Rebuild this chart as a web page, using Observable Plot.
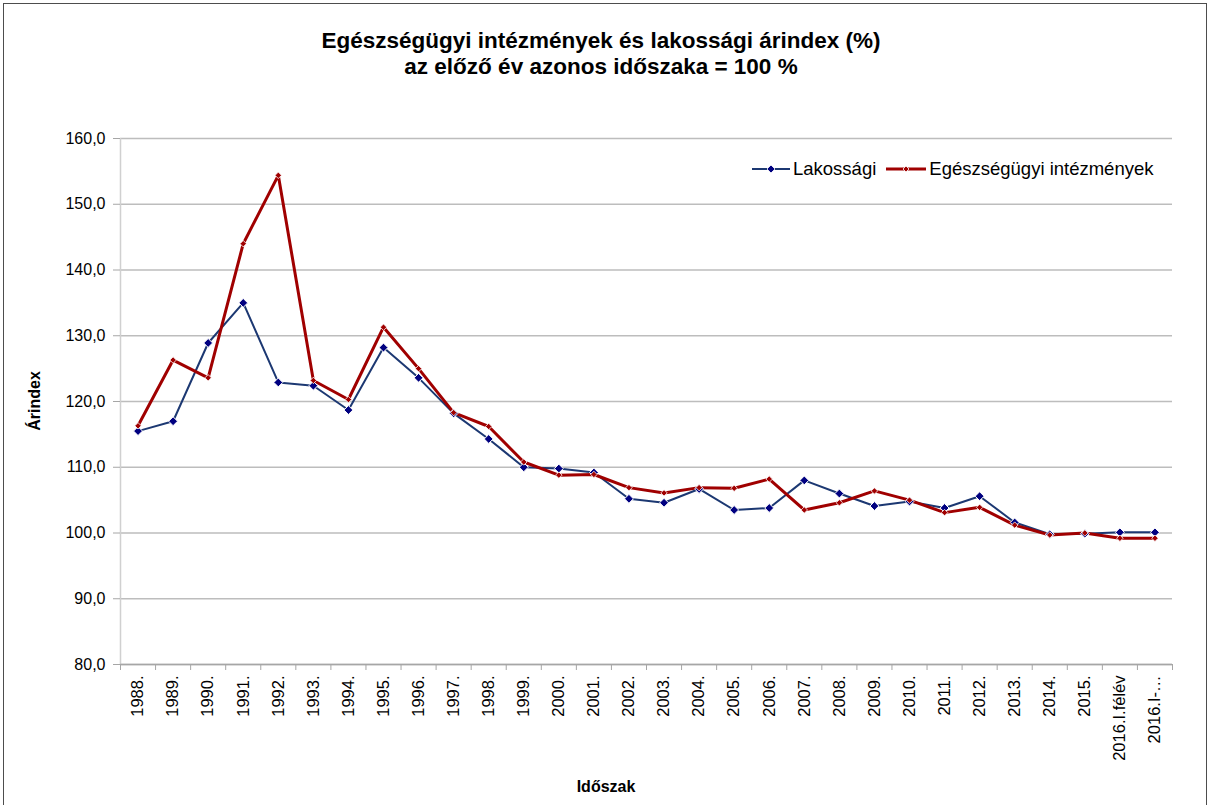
<!DOCTYPE html>
<html>
<head>
<meta charset="utf-8">
<script src="https://cdn.jsdelivr.net/npm/d3@7"></script>
<script src="https://cdn.jsdelivr.net/npm/@observablehq/plot@0.6"></script>
<style>
  body { margin: 0; background: #fff; font-family: "Liberation Sans", Arial, sans-serif; }
  #wrap { position: relative; width: 1210px; height: 805px; overflow: hidden; background: #fff; }
  #frame { position: absolute; left: 3px; top: 3px; width: 1204px; height: 830px; border: 1px solid #4d4d4d; box-sizing: border-box; pointer-events: none; }
  #title { height: 100px; box-sizing: border-box; padding-top: 28px; padding-right: 8px; text-align: center; font-weight: bold; font-size: 22.5px; line-height: 26px; color: #000; }
  #legend { position: absolute; top: 158px; left: 752px; display: flex; align-items: center; font-size: 18.5px; color: #000; white-space: nowrap; }
  #legend .item { display: flex; align-items: center; }
  #legend svg { display: block; margin-right: 3px; }
  .axtitle { position: absolute; font-weight: bold; font-size: 16px; color: #000; white-space: nowrap; }
  #ytitle { left: 35px; top: 401px; transform: translate(-50%, -50%) rotate(-90deg); }
  #xtitle { left: 606px; top: 787px; transform: translate(-50%, -50%); }
</style>
</head>
<body>
<div id="wrap">
  <div id="title">Egészségügyi intézmények és lakossági árindex (%)<br>az előző év azonos időszaka = 100 %</div>
  <div id="chart"></div>
  <div id="legend"></div>
  <div class="axtitle" id="ytitle">Árindex</div>
  <div class="axtitle" id="xtitle">Időszak</div>
  <div id="frame"></div>
</div>
<script>
const categories = ["1988.", "1989.", "1990.", "1991.", "1992.", "1993.", "1994.", "1995.", "1996.", "1997.",
  "1998.", "1999.", "2000.", "2001.", "2002.", "2003.", "2004.", "2005.", "2006.", "2007.",
  "2008.", "2009.", "2010.", "2011.", "2012.", "2013.", "2014.", "2015.", "2016.I.félév", "2016.I-…"];
const lakossagi = [115.5, 117.0, 128.9, 135.0, 122.9, 122.4, 118.7, 128.2, 123.6, 118.2,
  114.3, 110.0, 109.8, 109.2, 105.2, 104.6, 106.7, 103.5, 103.8, 108.0,
  106.0, 104.1, 104.8, 103.8, 105.6, 101.6, 99.8, 99.9, 100.1, 100.1];
const egeszsegugyi = [116.3, 126.3, 123.6, 144.0, 154.4, 123.2, 120.3, 131.3, 125.0, 118.3,
  116.2, 110.8, 108.8, 108.9, 106.9, 106.1, 106.9, 106.8, 108.2, 103.5,
  104.6, 106.4, 105.0, 103.1, 103.9, 101.2, 99.7, 100.0, 99.2, 99.2];
const seriesNames = ["Lakossági", "Egészségügyi intézmények"];
const yTicks = [80, 90, 100, 110, 120, 130, 140, 150, 160];

const colors = { line0: "#1c3872", dot0: "#000080", line1: "#a00000", dot1: "#a00000" };

const n = categories.length;
const idx = d3.range(n);
const lak = idx.map(i => ({ i, v: lakossagi[i] }));
const egs = idx.map(i => ({ i, v: egeszsegugyi[i] }));
const fmt = d => d.toFixed(1).replace(".", ",");

const chart = Plot.plot({
  width: 1210,
  height: 705,
  marginTop: 38,
  marginBottom: 141,
  marginLeft: 120,
  marginRight: 38,
  style: { fontFamily: '"Liberation Sans", Arial, sans-serif', fontSize: "16px", color: "#000", background: "transparent" },
  x: { type: "linear", domain: [-0.5, n - 0.5] },
  y: { domain: [80, 160] },
  marks: [
    Plot.gridY(yTicks, { stroke: "#bdbdbd", strokeOpacity: 1, strokeWidth: 1.5 }),
    Plot.ruleX([-0.5], { stroke: "#d0d0d0", strokeWidth: 1.5 }),
    Plot.ruleY([80], { stroke: "#a6a6a6", strokeWidth: 1.5 }),
    Plot.axisY({ ticks: yTicks, tickFormat: fmt, tickSize: 7, tickPadding: 8, stroke: "#a6a6a6", fill: "#000", fontSize: 16, label: null }),
    Plot.axisX({ ticks: d3.range(-0.5, n, 1), tickSize: 6, stroke: "#a6a6a6", fill: "none", label: null }),
    Plot.axisX({ ticks: idx, tickSize: 0, tickPadding: 11, tickRotate: -90, tickFormat: i => categories[i], fill: "#000", fontSize: 16.5, label: null }),
    Plot.line(lak, { x: "i", y: "v", stroke: colors.line0, strokeWidth: 2 }),
    Plot.line(egs, { x: "i", y: "v", stroke: colors.line1, strokeWidth: 3 }),
    Plot.dot(lak, { x: "i", y: "v", symbol: "diamond2", r: 4, fill: colors.dot0, stroke: "#fff", strokeWidth: 1 }),
    Plot.dot(egs, { x: "i", y: "v", symbol: "diamond2", r: 2.9, fill: colors.dot1, stroke: "#fff", strokeWidth: 0.8 })
  ]
});
document.getElementById("chart").appendChild(chart);

// legend
const legend = document.getElementById("legend");
const specs = [
  { name: seriesNames[0], line: colors.line0, dot: colors.dot0, lw: 2, ds: 4, w: 38 },
  { name: seriesNames[1], line: colors.line1, dot: colors.dot1, lw: 3, ds: 3, w: 40 }
];
specs.forEach((s, k) => {
  const item = document.createElement("div");
  item.className = "item";
  if (k > 0) item.style.marginLeft = "10px";
  const c = s.w / 2;
  item.innerHTML = `<svg width="${s.w}" height="20"><line x1="0" x2="${s.w}" y1="10" y2="10" stroke="${s.line}" stroke-width="${s.lw}"/>` +
    `<path d="M${c},${10 - s.ds}L${c + s.ds},10L${c},${10 + s.ds}L${c - s.ds},10Z" fill="${s.dot}" stroke="#fff" stroke-width="0.8"/></svg>` +
    `<span>${s.name}</span>`;
  legend.appendChild(item);
});
</script>
</body>
</html>
